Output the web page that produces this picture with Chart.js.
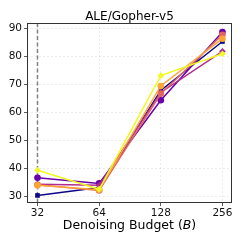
<!DOCTYPE html>
<html>
<head>
<meta charset="utf-8">
<script src="https://cdn.jsdelivr.net/npm/chart.js@4"></script>
<style>
  html, body { margin: 0; padding: 0; background: #fff; }
  #chart { display: block; }
</style>
</head>
<body>
<canvas id="chart" width="244" height="244"></canvas>
<script>
// budgets on the x axis (log2 spaced)
const budgets = [32, 64, 128, 256];
const yTicks = [30, 40, 50, 60, 70, 80, 90];

// one series per run, plasma colours
const runA = [30.2, 33.0, 67.7, 85.2];
const runB = [36.5, 34.5, 64.2, 88.6];
const runC = [34.2, 33.8, 67.0, 81.7];
const runD = [34.0, 32.0, 66.5, 87.6];
const runE = [33.8, 32.2, 69.3, 86.2];
const runF = [39.2, 32.4, 73.0, 80.8];

const seriesList = [runA, runB, runC, runD, runE, runF];
const colors = ['#0d0887', '#6a00a8', '#b12a90', '#e16462', '#fca636', '#f0f921'];
const markers = ['rect', 'circle', 'rectRot', 'circle', 'circle', 'rectRot'];

const FONT = '"DejaVu Sans", sans-serif';

const datasets = seriesList.map((vals, i) => ({
  data: vals.map((v, j) => ({ x: Math.log2(budgets[j]) - 5, y: v })),
  borderColor: colors[i],
  backgroundColor: colors[i],
  borderWidth: 1.5,
  pointStyle: markers[i],
  pointRadius: 3.3,
  pointBorderWidth: 0,
  order: 5 - i
}));

// title, x label, frame and the dashed reference line
const decor = {
  id: 'decor',
  beforeDatasetsDraw(chart) {
    const { ctx, chartArea: a, scales } = chart;
    const x0 = scales.x.getPixelForValue(0);
    ctx.save();
    ctx.strokeStyle = '#808080';
    ctx.lineWidth = 1.5;
    ctx.setLineDash([4, 2.5]);
    ctx.beginPath();
    ctx.moveTo(x0, a.top);
    ctx.lineTo(x0, a.bottom);
    ctx.stroke();
    ctx.restore();
  },
  afterDraw(chart) {
    const { ctx, chartArea: a } = chart;
    ctx.save();
    ctx.strokeStyle = '#333';
    ctx.lineWidth = 1;
    ctx.setLineDash([]);
    ctx.strokeRect(a.left + 0.5, a.top + 0.5, a.right - a.left - 1, a.bottom - a.top - 1);

    const cx = (a.left + a.right) / 2;
    ctx.fillStyle = '#000';
    ctx.textBaseline = 'alphabetic';
    ctx.textAlign = 'center';
    ctx.font = '12px ' + FONT;
    ctx.fillText('ALE/Gopher-v5', cx, 20);

    // x label with italic B: "Denoising Budget (" + B + ")"
    const normal = '12.5px ' + FONT;
    const italic = 'italic 12.5px ' + FONT;
    ctx.font = normal;
    const w1 = ctx.measureText('Denoising Budget (').width;
    const w3 = ctx.measureText(')').width;
    ctx.font = italic;
    const w2 = ctx.measureText('B').width;
    ctx.textAlign = 'left';
    let x = cx - (w1 + w2 + w3) / 2;
    ctx.font = normal;
    ctx.fillText('Denoising Budget (', x, 229);
    ctx.font = italic;
    ctx.fillText('B', x + w1, 229);
    ctx.font = normal;
    ctx.fillText(')', x + w1 + w2, 229);
    ctx.restore();
  }
};

new Chart(document.getElementById('chart'), {
  type: 'line',
  data: { datasets },
  plugins: [decor],
  options: {
    responsive: false,
    animation: false,
    layout: { padding: { left: 0, right: 12, top: 23, bottom: 0 } },
    plugins: { legend: { display: false }, tooltip: { enabled: false }, title: { display: false } },
    scales: {
      x: {
        type: 'linear',
        min: -0.17,
        max: 3.155,
        afterBuildTicks(s) { s.ticks = budgets.map((b, j) => ({ value: j })); },
        afterFit(s) { s.height = 41; },
        ticks: {
          callback: (v, i) => String(budgets[i]),
          font: { family: FONT, size: 10.5 },
          color: '#111',
          padding: 1,
          maxRotation: 0
        },
        grid: { color: 'rgba(0,0,0,0.1)', tickColor: '#333', tickLength: 3, lineWidth: 0.8 },
        border: { display: false, dash: [2, 2] }
      },
      y: {
        type: 'linear',
        min: 27.5,
        max: 91.8,
        afterBuildTicks(s) { s.ticks = yTicks.map(v => ({ value: v })); },
        afterFit(s) { s.width = 27; },
        ticks: {
          font: { family: FONT, size: 10.5 },
          color: '#111',
          padding: 2
        },
        grid: { color: 'rgba(0,0,0,0.1)', tickColor: '#333', tickLength: 3, lineWidth: 0.8 },
        border: { display: false, dash: [2, 2] }
      }
    }
  }
});
</script>
</body>
</html>
